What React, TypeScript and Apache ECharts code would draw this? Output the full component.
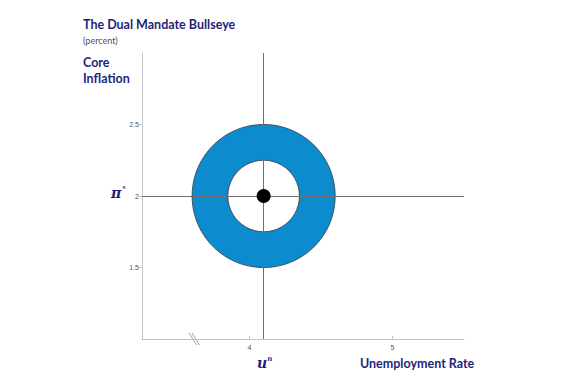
import React, { useEffect, useRef } from "react";
import * as echarts from "echarts";

const titleText = "The Dual Mandate Bullseye";
const subtitleText = "(percent)";
const yAxisTitle = ["Core", "Inflation"];
const xAxisTitle = "Unemployment Rate";

const xRange = [3.25, 5.5];
const yRange = [1, 3];
const xTickValues = [4, 5];
const yTickValues = [1.5, 2, 2.5];

// Bullseye: natural rate of unemployment, inflation target, ring radii
const uNatural = 4.1;
const piTarget = 2;
const outerRadius = 0.5;
const innerRadius = 0.25;

const NAVY = "#1f1f7a";

export default function App() {
  const ref = useRef<HTMLDivElement>(null);

  useEffect(() => {
    if (!ref.current) return;
    const chart = echarts.init(ref.current, null, { renderer: "svg" });

    const option: any = {
      animation: false,
      backgroundColor: "#ffffff",
      grid: { left: 142, right: 121, top: 53, bottom: 51, containLabel: false },
      xAxis: {
        type: "value",
        min: xRange[0],
        max: xRange[1],
        splitLine: { show: false },
        axisLine: { show: true, lineStyle: { color: "#c4c4c4", width: 1 } },
        axisTick: { show: true, inside: true, length: 3, customValues: xTickValues, lineStyle: { color: "#c4c4c4" } },
        axisLabel: { customValues: xTickValues, fontSize: 7, color: "#555", margin: 5, fontFamily: "Liberation Sans" },
      },
      yAxis: {
        type: "value",
        min: yRange[0],
        max: yRange[1],
        splitLine: { show: false },
        axisLine: { show: true, lineStyle: { color: "#c4c4c4", width: 1 } },
        axisTick: { show: true, inside: false, length: 3, customValues: yTickValues, lineStyle: { color: "#c4c4c4" } },
        axisLabel: {
          customValues: yTickValues,
          fontSize: 7,
          color: "#555",
          margin: 3,
          fontFamily: "Liberation Sans",
          formatter: (v: number) => String(v),
        },
      },
      series: [
        {
          type: "custom",
          z: 2,
          silent: true,
          data: [[uNatural, piTarget, outerRadius, innerRadius]],
          renderItem: (params: any, api: any) => {
            const c = api.coord([api.value(0), api.value(1)]);
            const ro = api.size([api.value(2), 0])[0];
            const ri = api.size([api.value(3), 0])[0];
            return {
              type: "group",
              children: [
                {
                  type: "circle",
                  shape: { cx: c[0], cy: c[1], r: ro },
                  style: { fill: "#0d8bcf", stroke: "#3a3a3a", lineWidth: 0.8 },
                },
                {
                  type: "circle",
                  shape: { cx: c[0], cy: c[1], r: ri },
                  style: { fill: "#ffffff", stroke: "#3a3a3a", lineWidth: 0.8 },
                },
              ],
            };
          },
        },
        {
          type: "scatter",
          z: 3,
          silent: true,
          data: [],
          markLine: {
            z: 3,
            silent: true,
            symbol: "none",
            label: { show: false },
            lineStyle: { color: "#6e6e6e", width: 1, type: "solid" },
            data: [{ xAxis: uNatural }, { yAxis: piTarget }],
          },
        },
        {
          type: "scatter",
          z: 10,
          silent: true,
          symbol: "circle",
          symbolSize: 14,
          itemStyle: { color: "#000000", opacity: 1 },
          data: [[uNatural, piTarget]],
        },
      ],
      graphic: [
        {
          type: "text",
          left: 83,
          top: 18,
          style: { text: titleText, fontSize: 12.5, fontWeight: "bold", fill: NAVY, fontFamily: "Lato" },
        },
        {
          type: "text",
          left: 83,
          top: 36,
          style: { text: subtitleText, fontSize: 9, fill: "#4a4a80", fontFamily: "Lato" },
        },
        {
          type: "text",
          left: 83,
          top: 54,
          style: { text: yAxisTitle.join("\n"), fontSize: 12.5, lineHeight: 16, fontWeight: "bold", fill: NAVY, fontFamily: "Lato" },
        },
        {
          type: "text",
          left: 360,
          top: 357,
          style: { text: xAxisTitle, fontSize: 12.5, fontWeight: "bold", fill: NAVY, fontFamily: "Lato" },
        },
        {
          type: "text",
          left: 111,
          top: 185,
          style: {
            text: "{a|π}{b|*}",
            rich: {
              a: { fontSize: 14, fontStyle: "italic", fontWeight: "bold", fill: NAVY, fontFamily: "DejaVu Serif", verticalAlign: "bottom" },
              b: { fontSize: 7, fill: NAVY, fontFamily: "DejaVu Serif", verticalAlign: "top", padding: [0, 0, 8, 1] },
            },
          },
        },
        {
          type: "text",
          left: 257,
          top: 355,
          style: {
            text: "{a|u}{b|n}",
            rich: {
              a: { fontSize: 14, fontStyle: "italic", fontWeight: "bold", fill: NAVY, fontFamily: "DejaVu Serif" },
              b: { fontSize: 7, fontStyle: "italic", fontWeight: "bold", fill: NAVY, fontFamily: "DejaVu Serif", padding: [0, 0, 9, 0] },
            },
          },
        },
        {
          type: "line",
          shape: { x1: 189, y1: 333, x2: 196.5, y2: 345 },
          style: { stroke: "#888", lineWidth: 0.8 },
        },
        {
          type: "line",
          shape: { x1: 192, y1: 333, x2: 199.5, y2: 345 },
          style: { stroke: "#888", lineWidth: 0.8 },
        },
      ],
    };

    chart.setOption(option);
    return () => chart.dispose();
  }, []);

  return (
    <div
      ref={ref}
      style={{ position: "fixed", left: 0, top: 0, width: 585, height: 390, background: "#fff" }}
    />
  );
}
